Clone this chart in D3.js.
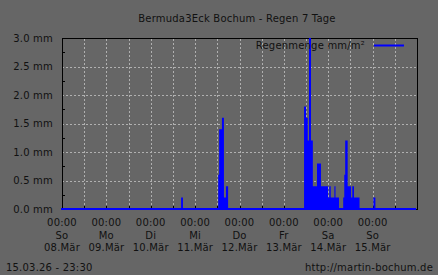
<!DOCTYPE html>
<html>
<head>
<meta charset="utf-8">
<script src="https://cdn.jsdelivr.net/npm/d3@7"></script>
<style>
  html, body { margin: 0; padding: 0; background: #666666; }
  svg text { font-family: "DejaVu Sans", sans-serif; font-size: 10px; fill: #111; letter-spacing: 0.2px; }
</style>
</head>
<body>
<div id="chart"></div>
<script>
// Regen-Stufen: jeder Wert gilt ab dem Zeitpunkt bis zum naechsten
const rainTime = [
    "2026-03-08T00:00",
    "2026-03-10T16:25", "2026-03-10T17:25",
    "2026-03-11T12:30", "2026-03-11T13:00", "2026-03-11T14:30", "2026-03-11T15:35",
    "2026-03-11T16:40", "2026-03-11T17:50",
    "2026-03-13T10:55", "2026-03-13T12:00", "2026-03-13T12:55", "2026-03-13T13:35",
    "2026-03-13T14:40", "2026-03-13T15:40", "2026-03-13T17:55", "2026-03-13T20:05",
    "2026-03-13T23:55", "2026-03-14T00:35", "2026-03-14T01:20", "2026-03-14T03:20",
    "2026-03-14T03:55", "2026-03-14T05:50",
    "2026-03-14T08:05", "2026-03-14T08:40", "2026-03-14T09:10", "2026-03-14T10:30",
    "2026-03-14T12:20", "2026-03-14T13:00", "2026-03-14T13:55", "2026-03-14T16:55",
    "2026-03-15T00:25", "2026-03-15T01:30",
    "2026-03-15T23:30"
];
const rainMm = [
    0,
    0.2, 0,
    0.6, 1.4, 1.6, 0.2,
    0.4, 0,
    1.8, 1.6, 1.2, 3.0,
    1.2, 0.4, 0.8, 0.4,
    0.2, 0.4, 0.2, 0.4,
    0.2, 0,
    0.2, 0.6, 1.2, 0.4,
    0.2, 0.4, 0.2, 0,
    0.2, 0,
    0
];

const dayTicks = ["2026-03-08T00:00", "2026-03-09T00:00", "2026-03-10T00:00", "2026-03-11T00:00",
                  "2026-03-12T00:00", "2026-03-13T00:00", "2026-03-14T00:00", "2026-03-15T00:00"];
const dayNames = ["So", "Mo", "Di", "Mi", "Do", "Fr", "Sa", "So"];
const dayDates = ["08.Mär", "09.Mär", "10.Mär", "11.Mär", "12.Mär", "13.Mär", "14.Mär", "15.Mär"];
const yTicks = [0, 0.5, 1.0, 1.5, 2.0, 2.5, 3.0];

const title = "Bermuda3Eck Bochum - Regen 7 Tage";
const legendLabel = "Regenmenge mm/m²";
const stamp = "15.03.26 - 23:30";
const site = "http://martin-bochum.de";

const W = 438, H = 275;
const margin = { top: 38, right: 21, bottom: 66, left: 62 };

const parse = d3.timeParse("%Y-%m-%dT%H:%M");
const data = rainTime.map((t, i) => ({ t: parse(t), v: rainMm[i] }));

const svg = d3.select("#chart").append("svg")
    .attr("width", W)
    .attr("height", H);

svg.append("rect").attr("width", W).attr("height", H).attr("fill", "#666666");

const x = d3.scaleTime()
    .domain([parse("2026-03-08T00:00"), parse("2026-03-16T00:00")])
    .range([margin.left, W - margin.right]);

const y = d3.scaleLinear()
    .domain([0, 3])
    .range([H - margin.bottom, margin.top]);

// Gitter
const halfDays = d3.timeHour.every(12).range(x.domain()[0], x.domain()[1]).slice(1);
svg.append("g")
    .selectAll("line")
    .data(halfDays)
    .join("line")
    .attr("x1", d => Math.round(x(d)) + 0.5)
    .attr("x2", d => Math.round(x(d)) + 0.5)
    .attr("y1", y(0))
    .attr("y2", y(3))
    .attr("stroke", "#b0b0b0")
    .attr("stroke-dasharray", "2,2");

svg.append("g")
    .selectAll("line")
    .data(yTicks.slice(1, -1))
    .join("line")
    .attr("x1", x.range()[0])
    .attr("x2", x.range()[1])
    .attr("y1", d => Math.round(y(d)) + 0.5)
    .attr("y2", d => Math.round(y(d)) + 0.5)
    .attr("stroke", "#b0b0b0")
    .attr("stroke-dasharray", "2,2");

// kleine Striche
svg.append("g")
    .selectAll("line")
    .data(d3.range(0.25, 3, 0.5))
    .join("line")
    .attr("x1", x.range()[0])
    .attr("x2", x.range()[0] + 3)
    .attr("y1", d => Math.round(y(d)) + 0.5)
    .attr("y2", d => Math.round(y(d)) + 0.5)
    .attr("stroke", "#000");

svg.append("g")
    .selectAll("line")
    .data(halfDays)
    .join("line")
    .attr("x1", d => Math.round(x(d)) + 0.5)
    .attr("x2", d => Math.round(x(d)) + 0.5)
    .attr("y1", y(0))
    .attr("y2", y(0) - 3)
    .attr("stroke", "#000");

// Rahmen
svg.append("rect")
    .attr("x", x.range()[0] + 0.5)
    .attr("y", y(3) + 0.5)
    .attr("width", x.range()[1] - x.range()[0])
    .attr("height", y(0) - y(3))
    .attr("fill", "none")
    .attr("stroke", "#000");

// Regen
const area = d3.area()
    .x(d => x(d.t))
    .y0(y(0))
    .y1(d => y(d.v))
    .curve(d3.curveStepAfter);

svg.append("path")
    .datum(data)
    .attr("d", area)
    .attr("fill", "#0000ff");

svg.append("line")
    .attr("x1", x(data[0].t) - 1)
    .attr("x2", x(data[data.length - 1].t))
    .attr("y1", y(0))
    .attr("y2", y(0))
    .attr("stroke", "#0000ff")
    .attr("stroke-width", 2);

// Achsenbeschriftung
svg.append("g")
    .selectAll("text")
    .data(yTicks)
    .join("text")
    .attr("x", 53)
    .attr("y", d => y(d) + 3.5)
    .attr("text-anchor", "end")
    .text(d => d3.format(".1f")(d) + " mm");

const xLab = svg.append("g")
    .selectAll("g")
    .data(dayTicks)
    .join("g")
    .attr("transform", d => `translate(${x(parse(d))},0)`);

xLab.append("text").attr("y", 226).attr("text-anchor", "middle").text("00:00");
xLab.append("text").attr("y", 239).attr("text-anchor", "middle").text((d, i) => dayNames[i]);
xLab.append("text").attr("y", 251).attr("text-anchor", "middle").text((d, i) => dayDates[i]);

// Titel, Legende, Fusszeile
svg.append("text")
    .attr("x", 237)
    .attr("y", 22)
    .attr("text-anchor", "middle")
    .text(title);

svg.append("text")
    .attr("x", 365)
    .attr("y", 49)
    .attr("text-anchor", "end")
    .text(legendLabel);

svg.append("line")
    .attr("x1", 374)
    .attr("x2", 404)
    .attr("y1", 45.5)
    .attr("y2", 45.5)
    .attr("stroke", "#0000ff")
    .attr("stroke-width", 2);

svg.append("text").attr("x", 6).attr("y", 271).text(stamp);
svg.append("text").attr("x", 433).attr("y", 271).attr("text-anchor", "end").text(site);
</script>
</body>
</html>
